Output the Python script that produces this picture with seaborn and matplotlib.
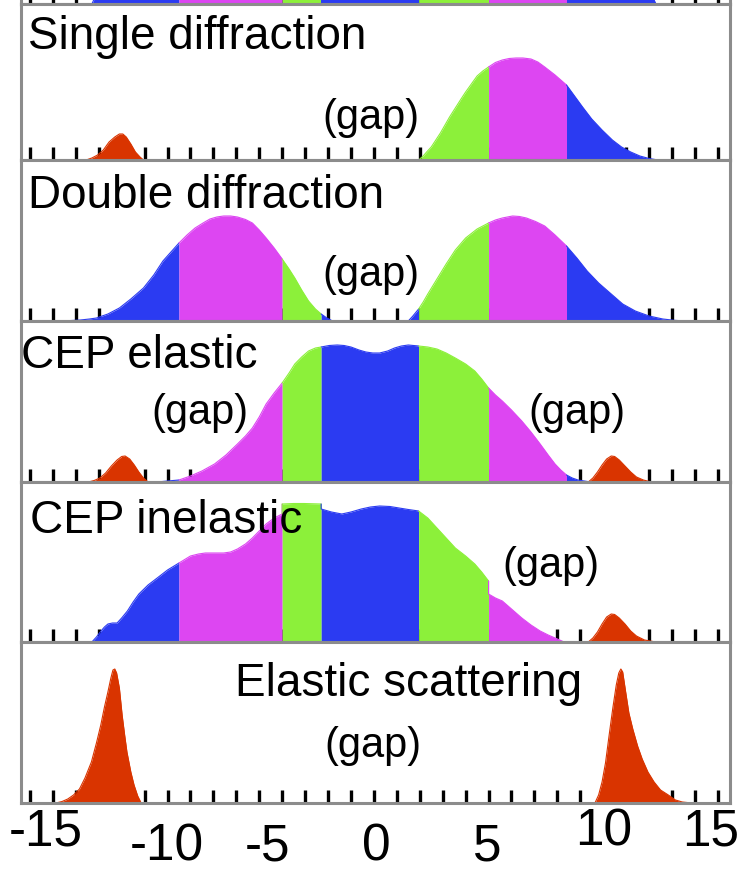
import numpy as np
import matplotlib
matplotlib.use("Agg")
import matplotlib.pyplot as plt
from matplotlib.transforms import ScaledTranslation
import seaborn as sns

# ---- colours and rapidity bands ----
BLUE = "#2b3bf2"
MAGENTA = "#dd46f2"
GREEN = "#8cf03a"
RED = "#d93400"
FRAME = "#8c8c8c"

band_edges = [-8.5, -4.0, -2.3, 1.95, 5.0, 8.4]
band_colors = [BLUE, MAGENTA, GREEN, BLUE, GREEN, MAGENTA, BLUE]

# ---- particle flow per event class (rapidity, height) ----
# non-diffractive (panel above, mostly outside the frame)
nd_x = [-12.3, -11.5, -8.5, -4.0, -2.3, 1.95, 5.0, 8.4, 11.5, 12.3]
nd_h = [0, 40, 100, 130, 140, 140, 130, 100, 40, 0]

# single diffraction
sd_main_x = [1.95, 2.15, 2.3, 2.5, 2.7, 2.9, 3.1, 3.3, 3.55, 3.8, 4.0, 4.25, 4.5, 4.75, 5.0, 5.3, 5.6, 5.9,
             6.2, 6.5, 6.85, 7.15, 7.45, 7.9, 8.4, 8.75, 9.1, 9.5, 9.95, 10.4, 10.8, 11.2, 11.6, 12.0, 12.4]
sd_main_h = [0, 4, 8, 13, 20, 27, 35, 43, 52, 61, 68, 76, 84, 89, 93, 97.5, 100, 101.5,
             102, 102, 101, 98, 93, 85, 75, 64, 53, 41, 30, 20, 13, 8, 4, 1.5, 0]
sd_red_x = [-12.55, -12.3, -12.05, -11.8, -11.55, -11.3, -11.1, -10.95, -10.8, -10.6, -10.4, -10.2, -10.05]
sd_red_h = [0, 2, 5, 10, 18, 23, 26, 26, 23, 16, 8, 3, 0]

# double diffraction
dd_left_x = [-13.6, -13.2, -12.8, -12.4, -12.1, -11.6, -11.1, -10.6, -10.05, -9.6, -9.2, -8.85, -8.5, -8.15,
             -7.8, -7.45, -7.15, -6.85, -6.55, -6.25, -5.95, -5.6, -5.3, -5.0, -4.7, -4.35, -4.0, -3.7,
             -3.45, -3.15, -2.85, -2.55, -2.3, -2.05, -1.8]
dd_left_h = [0, 0.5, 1, 2, 3, 7, 13, 22, 33, 46, 60, 69, 78, 86,
             93, 98, 102, 104, 105, 105, 104, 101.5, 98, 91, 83, 73, 62, 52,
             43, 31, 20, 12, 7, 3, 0]
dd_right_x = [1.5, 1.7, 1.95, 2.15, 2.35, 2.75, 3.15, 3.55, 4.0, 4.5, 5.0, 5.3, 5.6, 6.05, 6.35, 6.65,
              7.05, 7.45, 7.9, 8.4, 8.85, 9.3, 9.8, 10.35, 10.85, 11.4, 12.0, 12.6, 13.1, 13.6]
dd_right_h = [0, 5, 12, 19, 27, 42, 57, 71, 83, 92, 98, 101, 103, 105, 104.5, 103,
              99.5, 95, 86, 75, 63, 50, 38, 27, 17, 10, 5, 2, 0.7, 0]

# central exclusive production, elastic
cepe_main_x = [-9.45, -9.0, -8.5, -8.0, -7.5, -6.95, -6.45, -5.95, -5.6, -5.3, -5.0, -4.7, -4.35, -4.0,
               -3.7, -3.45, -3.15, -2.85, -2.55, -2.3, -1.95, -1.6, -1.3, -1.0, -0.65, -0.35, -0.05,
               0.25, 0.6, 0.9, 1.2, 1.5, 1.95, 2.35, 2.75, 3.15, 3.55, 4.0, 4.4, 4.7, 5.0, 5.3, 5.6,
               6.0, 6.45, 6.85, 7.25, 7.6, 7.9, 8.15, 8.4, 8.65, 8.9, 9.45]
cepe_main_h = [0, 1, 2, 6, 11, 18, 27, 38, 46, 54, 65, 78, 89, 99,
               109, 118, 125, 131, 134, 135, 136.5, 137, 136.5, 135, 132, 130, 129,
               129, 131, 134, 136, 137, 136, 135, 133, 129, 124, 118, 111, 103, 94, 87, 81,
               72, 61, 50, 38, 27, 18, 12, 7, 4, 2, 0]
cepe_red_l_x = [-12.45, -12.2, -11.95, -11.7, -11.45, -11.2, -11.0, -10.85, -10.65, -10.45, -10.25, -10.05, -9.85]
cepe_red_l_h = [0, 1.5, 4, 9, 16, 22, 25.5, 26, 23, 17, 10, 4, 0]
cepe_red_r_x = [9.35, 9.55, 9.75, 9.95, 10.15, 10.35, 10.5, 10.7, 10.95, 11.2, 11.45, 11.75, 12.1]
cepe_red_r_h = [0, 4, 10, 17, 23, 26, 25.5, 22, 16, 10, 5, 2, 0]

# central exclusive production, inelastic
cepi_main_x = [-12.3, -12.1, -11.9, -11.75, -11.6, -11.4, -11.2, -11.0, -10.75, -10.5, -10.25, -9.85, -9.45,
               -9.0, -8.5, -8.0, -7.65, -7.35, -6.95, -6.55, -6.25, -5.95, -5.6, -5.3, -5.0, -4.7, -4.35,
               -4.0, -4.0, -3.5, -3.05, -2.3, -2.3, -1.85, -1.4, -1.0, -0.55, -0.15, 0.25, 0.7, 1.1,
               1.5, 1.95, 2.35, 2.75, 3.15, 3.55, 4.0, 4.4, 4.7, 5.0, 5.0, 5.3, 5.6, 6.0, 6.45, 6.85,
               7.25, 7.6, 7.9, 8.3]
cepi_main_h = [0, 5, 11, 15, 18, 19, 19, 24, 31, 40, 48, 57, 64,
               72, 79, 86, 88, 89, 89, 89, 90, 93, 98, 104, 111, 118, 124,
               128, 138, 138.5, 138.5, 138, 133, 130, 128, 130, 133, 135, 136, 135.5, 134,
               132.5, 131, 124, 114, 104, 94, 86, 78, 70, 61, 48, 44, 41, 33, 24, 17,
               11, 7, 4, 0]
cepi_red_x = [9.35, 9.55, 9.75, 9.95, 10.15, 10.35, 10.5, 10.7, 10.95, 11.2, 11.45, 11.8, 12.3]
cepi_red_h = [0, 4, 10, 18, 25, 28, 27.5, 24, 18, 11, 6, 2, 0]

# elastic scattering
es_left_x = [-13.87, -13.6, -13.35, -13.1, -12.84, -12.6, -12.32, -12.1, -11.91, -11.75, -11.6, -11.47,
             -11.38, -11.3, -11.22, -11.1, -10.98, -10.87, -10.77, -10.6, -10.46, -10.3, -10.15]
es_left_h = [0, 1.5, 4, 8, 14, 25, 41, 60, 78, 96, 111, 125,
             133, 134, 130, 115, 88, 68, 51, 31, 18, 7, 0]
es_right_x = [9.64, 9.8, 9.95, 10.1, 10.26, 10.42, 10.57, 10.68, 10.77, 10.85, 10.98, 11.12, 11.29,
              11.5, 11.7, 11.95, 12.22, 12.5, 12.84, 13.15, 13.45, 13.87]
es_right_h = [0, 8, 21, 40, 68, 95, 118, 130, 134, 131, 111, 90, 74,
              57, 44, 31, 21, 13, 8, 3, 1, 0]

# ---- axis labels ----
tick_values = list(range(-15, 16))
label_values = [-15, -10, -5, 0, 5, 10, 15]
# label shifts in pixels (right, up)
label_shift = {-15: (16, 15), -10: (22, 0), -5: (8, 0), 0: (2, 0), 5: (-1, 0), 10: (0, 15), 15: (-7, 15)}

panels = [
    dict(title=None, curves=[(nd_x, nd_h, None)], gaps=[]),
    dict(title=("Single diffraction", -15.1, 111),
         curves=[(sd_main_x, sd_main_h, None), (sd_red_x, sd_red_h, RED)],
         gaps=[(-0.13, 31)]),
    dict(title=("Double diffraction", -15.1, 113),
         curves=[(dd_left_x, dd_left_h, None), (dd_right_x, dd_right_h, None)],
         gaps=[(-0.13, 35)]),
    dict(title=("CEP elastic", -15.4, 114),
         curves=[(cepe_main_x, cepe_main_h, None), (cepe_red_l_x, cepe_red_l_h, RED),
                 (cepe_red_r_x, cepe_red_r_h, RED)],
         gaps=[(-7.59, 58), (8.85, 58)]),
    dict(title=("CEP inelastic", -15.0, 109),
         curves=[(cepi_main_x, cepi_main_h, None), (cepi_red_x, cepi_red_h, RED)],
         gaps=[(7.72, 65)]),
    dict(title=("Elastic scattering", -6.05, 107),
         curves=[(es_left_x, es_left_h, RED), (es_right_x, es_right_h, RED)],
         gaps=[(-0.04, 46)]),
]

# ---- figure ----
sns.set_theme(style="white")
plt.rcParams["font.family"] = ["Liberation Sans", "DejaVu Sans"]

W, H = 743, 871
fig = plt.figure(figsize=(W / 100, H / 100), dpi=100)
fig.patch.set_facecolor("white")

LEFT, RIGHT = 21, 730
panel_tops = [-156, 4, 160, 321, 482, 642]
panel_bottoms = [4, 160, 321, 482, 642, 803]


def draw_curve(ax, x, h, color):
    x = np.asarray(x, float)
    h = np.asarray(h, float)
    if color is not None:
        ax.fill_between(x, 0, h, color=color, lw=0, zorder=1)
        sns.lineplot(x=x, y=h, color=color, lw=0.8, sort=False, estimator=None, ax=ax, zorder=1)
        return
    edges = [-np.inf] + band_edges + [np.inf]
    for i, c in enumerate(band_colors):
        lo, hi = edges[i], edges[i + 1]
        m = (x >= lo) & (x <= hi)
        if m.sum() < 2:
            continue
        ax.fill_between(x[m], 0, h[m], color=c, lw=0, zorder=1)
        sns.lineplot(x=x[m], y=h[m], color=c, lw=0.8, sort=False, estimator=None, ax=ax, zorder=1)


axes = []
for p, top, bot in zip(panels, panel_tops, panel_bottoms):
    ax = fig.add_axes([LEFT / W, 1 - bot / H, (RIGHT - LEFT) / W, (bot - top) / H])
    ax.set_facecolor("white")
    ax.set_xlim(-15.39, 15.53)
    ax.set_ylim(0, bot - top)
    for x, h, c in p["curves"]:
        draw_curve(ax, x, h, c)
    if p["title"]:
        t, tx, ty = p["title"]
        ax.text(tx, ty, t, fontsize=33, ha="left", va="baseline", color="black", zorder=5)
    for gx, gy in p["gaps"]:
        ax.text(gx, gy, "(gap)", fontsize=30, ha="center", va="baseline", color="black", zorder=5)
    for s in ax.spines.values():
        s.set_visible(True)
        s.set_color(FRAME)
        s.set_linewidth(2.2)
    ax.set_yticks([])
    ax.set_xticks(tick_values)
    ax.tick_params(axis="x", direction="in", length=9.5, width=2.4, color="black",
                   bottom=True, top=False, labelbottom=False)
    ax.set_xlabel("")
    ax.set_ylabel("")
    axes.append(ax)

# bottom axis labels
ax = axes[-1]
ax.set_xticks(tick_values, [str(v) if v in label_values else "" for v in tick_values])
ax.tick_params(axis="x", labelbottom=True, labelsize=37, pad=14, labelcolor="black")
for tick, v in zip(ax.xaxis.get_major_ticks(), tick_values):
    if v in label_shift:
        dx, dy = label_shift[v]
        lab = tick.label1
        lab.set_transform(lab.get_transform() + ScaledTranslation(dx / 100, dy / 100, fig.dpi_scale_trans))

fig.savefig("out.png", dpi=100, facecolor="white")
